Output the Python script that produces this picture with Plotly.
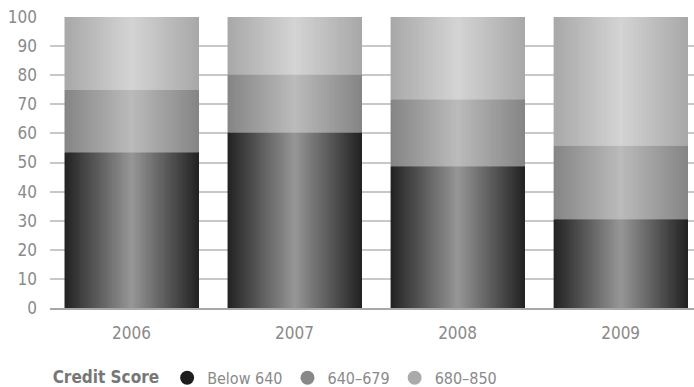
import plotly.graph_objects as go

years = ["2006", "2007", "2008", "2009"]
series_names = ["Below 640", "640–679", "680–850"]
below_640 = [53.5, 60.3, 48.7, 30.5]
mid_640_679 = [21.5, 19.9, 23.0, 25.3]
top_680_850 = [25.0, 19.8, 28.3, 44.2]
y_ticks = [0, 10, 20, 30, 40, 50, 60, 70, 80, 90, 100]

# gradient (edge, center) gray levels for each series
grad = [(0x22, 0x97), (0x85, 0xbb), (0xa8, 0xd4)]
legend_colors = ["#1e1e1e", "#888888", "#aaaaaa"]

FONT = "Liberation Sans Narrow, DejaVu Sans Condensed, sans-serif"
TICK_COLOR = "#8a8a8a"

values = [below_640, mid_640_679, top_680_850]
bases = []
for s in range(3):
    bases.append([sum(values[k][i] for k in range(s)) for i in range(len(years))])

bar_w = 0.822
N = 134
step = bar_w / N

fig = go.Figure()
for j in range(N):
    t = (j + 0.5) / N
    f = 1 - abs(2 * t - 1)
    xs, ys, bs, cs = [], [], [], []
    for s in range(3):
        e, c = grad[s]
        g = int(round(e + (c - e) * f))
        col = f"rgb({g},{g},{g})"
        for i, yr in enumerate(years):
            xs.append(yr)
            ys.append(values[s][i])
            bs.append(bases[s][i])
            cs.append(col)
    w = step * 2 if j < N - 1 else step
    fig.add_trace(go.Bar(
        x=xs, y=ys, base=bs,
        width=w,
        offset=-bar_w / 2 + j * step,
        marker=dict(color=cs, line=dict(width=0)),
        showlegend=False, hoverinfo="skip",
    ))

for s, name in enumerate(series_names):
    fig.add_trace(go.Scatter(
        x=[None], y=[None], mode="markers", name=name,
        marker=dict(symbol="circle", size=14, color=legend_colors[s]),
    ))

fig.update_layout(
    width=694, height=387,
    margin=dict(l=50, r=0, t=17, b=79, autoexpand=False),
    paper_bgcolor="white", plot_bgcolor="white",
    barmode="overlay",
    font=dict(family=FONT, color=TICK_COLOR, size=17),
    showlegend=True,
    legend=dict(
        orientation="h",
        xref="paper", yref="paper",
        x=0.001, y=-0.24, xanchor="left", yanchor="middle",
        font=dict(family=FONT, size=16, color=TICK_COLOR),
        title=dict(text="<b>Credit Score</b>", side="left",
                   font=dict(family=FONT, size=17, color="#777777")),
        itemsizing="trace",
    ),
    xaxis=dict(
        type="category", categoryorder="array", categoryarray=years,
        range=[-0.5, 3.45],
        showgrid=False, zeroline=False,
        showline=True, linecolor="#a8a8a8", linewidth=2,
        ticks="", ticklabelstandoff=9,
        tickfont=dict(family=FONT, size=17, color=TICK_COLOR),
    ),
    yaxis=dict(
        range=[0, 100], tickvals=y_ticks,
        showgrid=True, gridcolor="#c8c8c8", gridwidth=2,
        zeroline=False, showline=False,
        ticks="", ticklabelstandoff=12,
        tickfont=dict(family=FONT, size=17, color=TICK_COLOR),
    ),
)

fig.write_html("out.html")
